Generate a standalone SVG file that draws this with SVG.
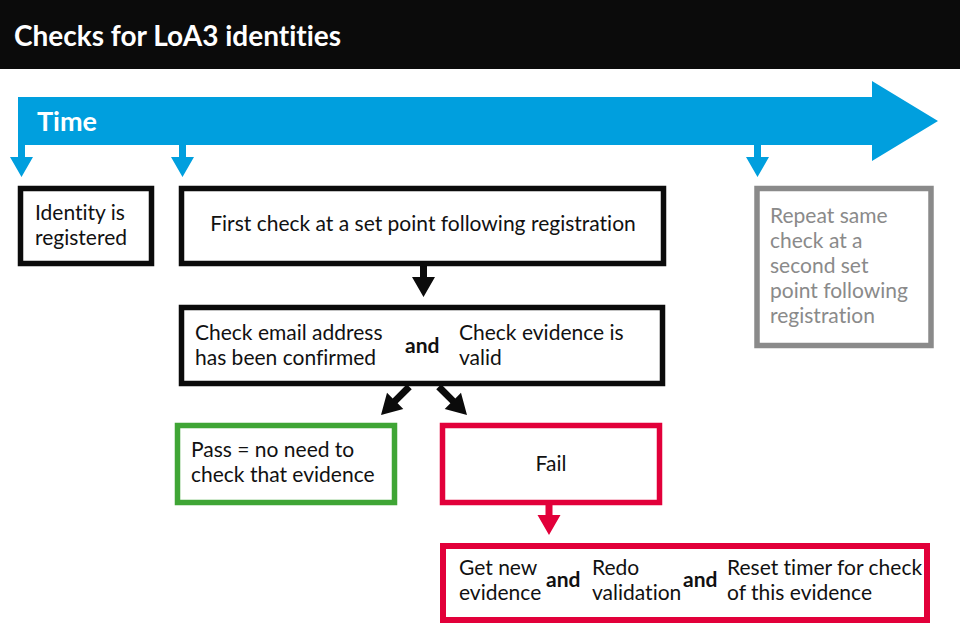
<svg xmlns="http://www.w3.org/2000/svg" width="960" height="640" viewBox="0 0 960 640">
<style>
text{font-variant-ligatures:none;font-feature-settings:"liga" 0}
.t{font-family:Lato,"Liberation Sans",sans-serif;font-size:21px;fill:#111}
.b{font-weight:bold}
.box{fill:#fff;stroke-width:5.5}
.k{stroke:#0b0b0b}.r{stroke:#e2003a}.g{stroke:#3fa535}.gr{stroke:#8a8a8a}
</style>
<defs>
<path id="dn" d="M-3.5,-40 H3.5 V-20 H11.5 L0,0 L-11.5,-20 H-3.5 Z"/>
</defs>
<rect x="0" y="0" width="960" height="69" fill="#0b0b0b"/>
<text x="14" y="46" font-family="Lato,'Liberation Sans',sans-serif" font-size="28" font-weight="bold" fill="#fff">Checks for LoA3 identities</text>
<g id="time">
<polygon points="18,97 872,97 872,81 938,121 872,161 872,145 18,145" fill="#009fde"/>
<text x="37" y="131" font-family="Lato,'Liberation Sans',sans-serif" font-size="27" font-weight="bold" fill="#fff">Time</text>
</g>
<g id="connectors">
<g fill="#009fde">
<path d="M18,140 H25 V157 H33 L21.5,177 L10,157 H18 Z"/>
<path d="M179,140 H186 V157 H194 L182.5,177 L171,157 H179 Z"/>
<path d="M754,140 H761 V157 H769 L757.5,177 L746,157 H754 Z"/>
</g>
<g fill="#0b0b0b">
<use href="#dn" transform="translate(423.5,297)"/>
<use href="#dn" transform="translate(381,415) rotate(45)"/>
<use href="#dn" transform="translate(467,415) rotate(-45)"/>
</g>
<use href="#dn" transform="translate(549,535)" fill="#e2003a"/>
</g>
<g id="identity">
<rect class="box k" x="20.5" y="188.5" width="131" height="75"/>
<text class="t" x="35" y="220">Identity is</text>
<text class="t" x="35" y="245">registered</text>
</g>
<g id="first">
<rect class="box k" x="181.5" y="188.5" width="482" height="75"/>
<text class="t" x="423" y="231" text-anchor="middle">First check at a set point following registration</text>
</g>
<g id="repeat">
<rect class="box gr" x="757" y="188.5" width="174" height="157"/>
<g class="t" style="fill:#8a8a8a">
<text x="770" y="223">Repeat same</text>
<text x="770" y="248">check at a</text>
<text x="770" y="273">second set</text>
<text x="770" y="298">point following</text>
<text x="770" y="323">registration</text>
</g>
</g>
<g id="checks">
<rect class="box k" x="181.5" y="307.5" width="481" height="76"/>
<text class="t" x="195" y="340">Check email address</text>
<text class="t" x="195" y="365">has been confirmed</text>
<text class="t b" x="405" y="353">and</text>
<text class="t" x="459" y="340">Check evidence is</text>
<text class="t" x="459" y="365">valid</text>
</g>
<g id="pass">
<rect class="box g" x="177.5" y="425.5" width="217" height="77"/>
<text class="t" x="191" y="457">Pass = no need to</text>
<text class="t" x="191" y="482">check that evidence</text>
</g>
<g id="fail">
<rect class="box r" x="442.5" y="425.5" width="217" height="77"/>
<text class="t" x="551" y="471" text-anchor="middle">Fail</text>
</g>
<g id="redo">
<rect class="box r" x="443" y="546" width="484" height="74" style="stroke-width:6"/>
<text class="t" x="459" y="575">Get new</text>
<text class="t" x="459" y="600">evidence</text>
<text class="t b" x="546" y="587">and</text>
<text class="t" x="592" y="575">Redo</text>
<text class="t" x="592" y="600">validation</text>
<text class="t b" x="683" y="587">and</text>
<text class="t" x="727" y="575">Reset timer for check</text>
<text class="t" x="727" y="600">of this evidence</text>
</g>
</svg>
